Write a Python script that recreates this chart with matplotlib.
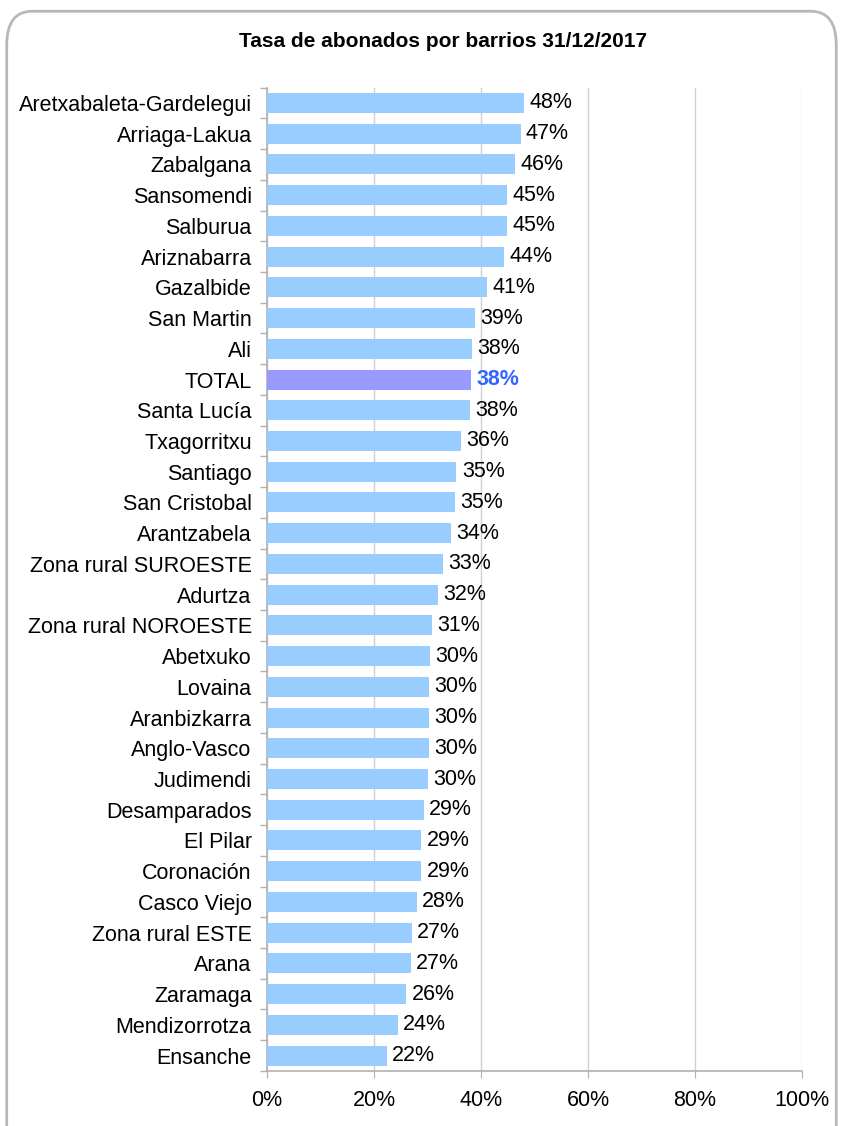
import matplotlib.pyplot as plt
import numpy as np
from matplotlib.patches import FancyBboxPatch

plt.rcParams['font.family'] = ['Liberation Sans', 'DejaVu Sans']

barrios = ['Aretxabaleta-Gardelegui', 'Arriaga-Lakua', 'Zabalgana', 'Sansomendi',
           'Salburua', 'Ariznabarra', 'Gazalbide', 'San Martin', 'Ali', 'TOTAL',
           'Santa Lucía', 'Txagorritxu', 'Santiago', 'San Cristobal', 'Arantzabela',
           'Zona rural SUROESTE', 'Adurtza', 'Zona rural NOROESTE', 'Abetxuko',
           'Lovaina', 'Aranbizkarra', 'Anglo-Vasco', 'Judimendi', 'Desamparados',
           'El Pilar', 'Coronación', 'Casco Viejo', 'Zona rural ESTE', 'Arana',
           'Zaramaga', 'Mendizorrotza', 'Ensanche']
tasa = [0.480, 0.474, 0.464, 0.449, 0.449, 0.443, 0.411, 0.389, 0.383, 0.381,
        0.379, 0.363, 0.354, 0.351, 0.344, 0.329, 0.320, 0.308, 0.304, 0.303,
        0.302, 0.302, 0.301, 0.293, 0.288, 0.288, 0.280, 0.271, 0.269, 0.260,
        0.244, 0.224]

fig = plt.figure(figsize=(8.43, 11.26), dpi=100)
ax = fig.add_axes([0.3167, 0.0489, 0.6347, 0.8733])

y = np.arange(len(barrios))
colors = ['#9999FF' if b == 'TOTAL' else '#99CCFF' for b in barrios]
ax.barh(y, tasa, height=0.65, color=colors, zorder=3)

for i, (b, v) in enumerate(zip(barrios, tasa)):
    if b == 'TOTAL':
        ax.text(v + 0.01, i, f'{v*100:.0f}%', va='center', ha='left',
                fontsize=15.5, color='#3366FF', fontweight='bold')
    else:
        ax.text(v + 0.01, i, f'{v*100:.0f}%', va='center', ha='left',
                fontsize=15.5, color='black')

ax.set_ylim(len(barrios) - 0.5, -0.5)
ax.set_xlim(0, 1)
ax.set_yticks(y)
ax.set_yticklabels(barrios, fontsize=15.5)
ax.set_yticks(np.arange(len(barrios) + 1) - 0.5, minor=True)
ax.tick_params(axis='y', which='major', length=0, pad=11)
ax.tick_params(axis='y', which='minor', length=5, color='#b0b0b0', width=1)

ax.set_xticks(np.arange(0, 1.01, 0.2))
ax.set_xticklabels([f'{int(t*100)}%' for t in np.arange(0, 1.01, 0.2)], fontsize=15.5)
ax.tick_params(axis='x', length=5, color='#b0b0b0', pad=9)

ax.grid(axis='x', color='#d0d0d0', linewidth=1, zorder=0)
for s in ['top', 'right']:
    ax.spines[s].set_visible(False)
for s in ['left', 'bottom']:
    ax.spines[s].set_color('#b0b0b0')
    ax.spines[s].set_linewidth(1.2)

fig.text(0.525, 0.963, 'Tasa de abonados por barrios 31/12/2017',
         ha='center', va='center', fontsize=15, fontweight='bold')

border = FancyBboxPatch((0.008, -0.05), 0.984, 1.04,
                        boxstyle='round,pad=0,rounding_size=0.03',
                        transform=fig.transFigure, facecolor='none',
                        edgecolor='#b8b8b8', linewidth=2, zorder=10)
fig.patches.append(border)

fig.savefig('out.png', dpi=100)
